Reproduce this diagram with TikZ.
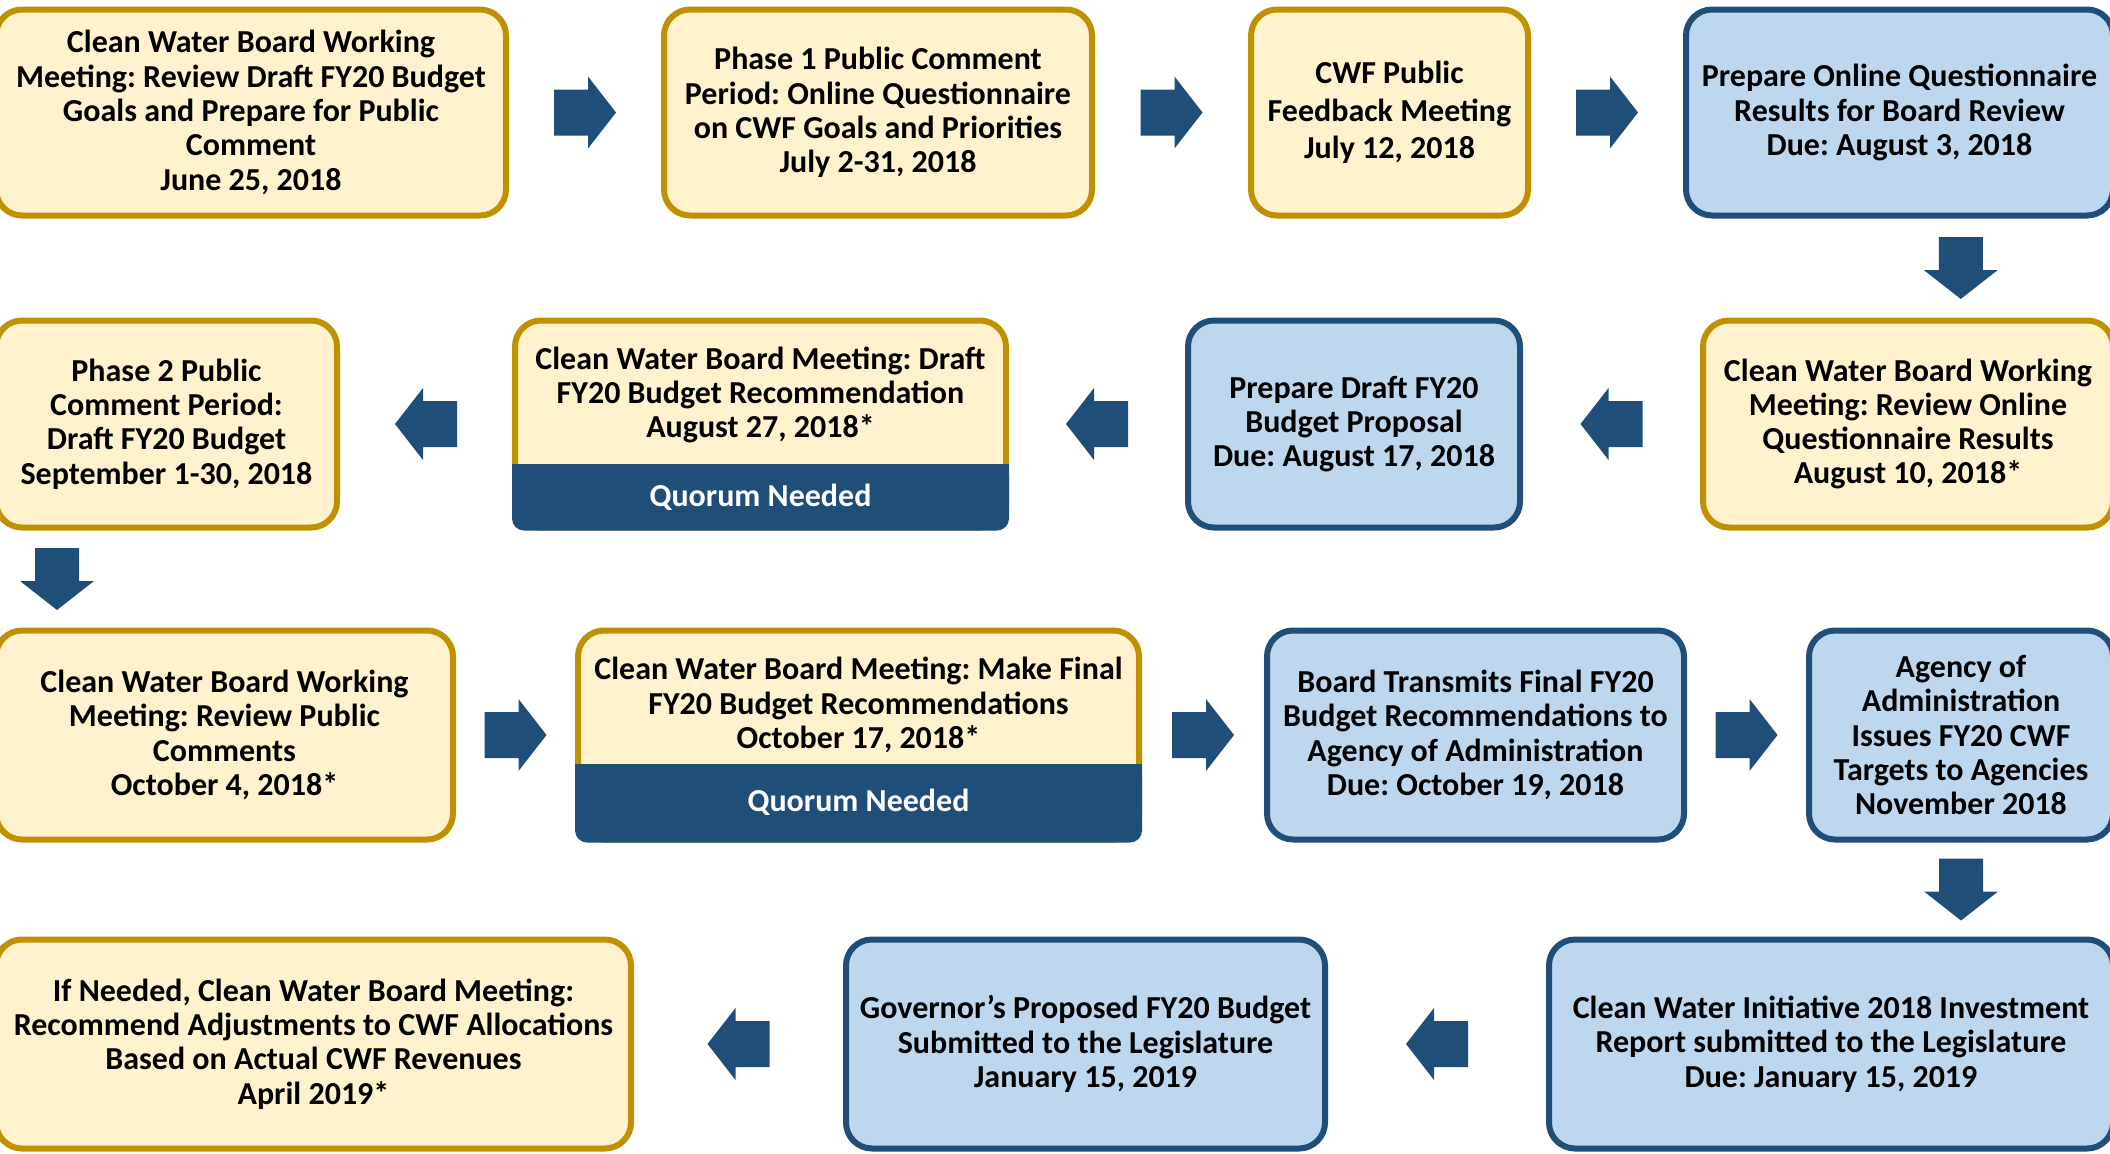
\documentclass[tikz,border=0pt]{standalone}
\usepackage{fontspec}
\setmainfont{Carlito}
\usetikzlibrary{calc}
\definecolor{gold}{HTML}{BF9000}
\definecolor{cream}{HTML}{FFF2CC}
\definecolor{lblue}{HTML}{BDD7EE}
\definecolor{navy}{HTML}{1F4E79}
\tikzset{
  box/.style={rounded corners=26pt, line width=6pt, align=center, inner sep=0pt,
    font=\bfseries\fontsize{32}{34.3}\selectfont, text=black},
  ybox/.style={box, draw=gold, fill=cream},
  bbox/.style={box, draw=navy, fill=lblue},
  qtext/.style={font=\bfseries\fontsize{32}{34.3}\selectfont, text=white, inner sep=0pt},
  blockarrow/.pic={\fill[navy] (-31,-23) -- (3,-23) -- (3,-36) -- (31,0) -- (3,36) -- (3,23) -- (-31,23) -- cycle;},
  downarrow/.pic={\fill[navy] (-31,-22) -- (2,-22) -- (2,-37) -- (31,0) -- (2,37) -- (2,22) -- (-31,22) -- cycle;}
}
\frenchspacing
\begin{document}
\begin{tikzpicture}[x=1pt,y=-1pt]
\useasboundingbox (0,0) rectangle (2110,1154);
% Row 1
\node[ybox, minimum width=510, minimum height=206] (b1) at (251,112.5) {Clean Water Board Working\\Meeting: Review Draft FY20 Budget\\Goals and Prepare for Public\\Comment\\June 25, 2018};
\node[ybox, minimum width=428, minimum height=206] (b2) at (878,112.5) {Phase 1 Public Comment\\Period: Online Questionnaire\\on CWF Goals and Priorities\\July 2-31, 2018};
\node[ybox, minimum width=277, minimum height=206, font=\bfseries\fontsize{32}{37.5}\selectfont] (b3) at (1389.5,112.5) {CWF Public\\Feedback Meeting\\July 12, 2018};
\node[bbox, minimum width=427, minimum height=206] (b4) at (1899.5,112.5) {Prepare Online Questionnaire\\Results for Board Review\\Due: August 3, 2018};
% Row 2
\node[ybox, minimum width=410, minimum height=207] (b5) at (1908,424) {Clean Water Board Working\\Meeting: Review Online\\Questionnaire Results\\August 10, 2018*};
\node[bbox, minimum width=332, minimum height=207] (b6) at (1354,424) {Prepare Draft FY20\\Budget Proposal\\Due: August 17, 2018};
\node[ybox, minimum width=491, minimum height=207] (b7) at (760.5,424) {};
\node[ybox, minimum width=341, minimum height=207] (b8) at (166.5,424) {Phase 2 Public\\Comment Period:\\Draft FY20 Budget\\September 1-30, 2018};
% Row 3
\node[ybox, minimum width=457, minimum height=209] (b9) at (224.5,735) {Clean Water Board Working\\Meeting: Review Public\\Comments\\October 4, 2018*};
\node[ybox, minimum width=561, minimum height=209] (b10) at (858.5,735) {};
\node[bbox, minimum width=417, minimum height=209] (b11) at (1475.5,735) {Board Transmits Final FY20\\Budget Recommendations to\\Agency of Administration\\Due: October 19, 2018};
\node[bbox, minimum width=304, minimum height=209] (b12) at (1961,735) {Agency of\\Administration\\Issues FY20 CWF\\Targets to Agencies\\November 2018};
% Row 4
\node[bbox, minimum width=564, minimum height=209] (b13) at (1831,1044) {Clean Water Initiative 2018 Investment\\Report submitted to the Legislature\\Due: January 15, 2019};
\node[bbox, minimum width=479, minimum height=209] (b14) at (1085.5,1044) {Governor’s Proposed FY20 Budget\\Submitted to the Legislature\\January 15, 2019};
\node[ybox, minimum width=635, minimum height=209] (b15) at (313.5,1044) {If Needed, Clean Water Board Meeting:\\Recommend Adjustments to CWF Allocations\\Based on Actual CWF Revenues\\April 2019*};
% Quorum bands (anchors already lie on the outer edge of the border)
\fill[navy, rounded corners=12pt] (b7.west |- 0,464) rectangle (b7.south east);
\fill[navy] (b7.west |- 0,464) rectangle (b7.east |- 0,490);
\node[box, anchor=center] (t7) at (760.5,395) {Clean Water Board Meeting: Draft\\FY20 Budget Recommendation\\August 27, 2018*};
\node[qtext] (q7) at (760.5,497) {Quorum Needed};
\fill[navy, rounded corners=12pt] (b10.west |- 0,764) rectangle (b10.south east);
\fill[navy] (b10.west |- 0,764) rectangle (b10.east |- 0,790);
\node[box, anchor=center] (t10) at (858.5,705) {Clean Water Board Meeting: Make Final\\FY20 Budget Recommendations\\October 17, 2018*};
\node[qtext] (q10) at (858.5,802) {Quorum Needed};
% Arrows
\pic at ($(b1.east)!.5!(b2.west)$) {blockarrow};
\pic at ($(b2.east)!.5!(b3.west)$) {blockarrow};
\pic at ($(b3.east)!.5!(b4.west)$) {blockarrow};
\pic[rotate=-90] at ($(b4.south)!.5!(b5.north)+(57,0)$) {downarrow};
\pic[rotate=180] at ($(b6.east)!.5!(b5.west)$) {blockarrow};
\pic[rotate=180] at ($(b7.east)!.5!(b6.west)$) {blockarrow};
\pic[rotate=180] at ($(b8.east)!.5!(b7.west)$) {blockarrow};
\pic[rotate=-90] at ($(b8.south)!.5!(b9.north)+(-138.5,0)$) {downarrow};
\pic at ($(b9.east)!.5!(b10.west)$) {blockarrow};
\pic at ($(b10.east)!.5!(b11.west)$) {blockarrow};
\pic at ($(b11.east)!.5!(b12.west)$) {blockarrow};
\pic[rotate=-90] at ($(b12.south)!.5!(b13.north)+(65,0)$) {downarrow};
\pic[rotate=180] at ($(b14.east)!.5!(b13.west)$) {blockarrow};
\pic[rotate=180] at ($(b15.east)!.5!(b14.west)$) {blockarrow};
\end{tikzpicture}
\end{document}
